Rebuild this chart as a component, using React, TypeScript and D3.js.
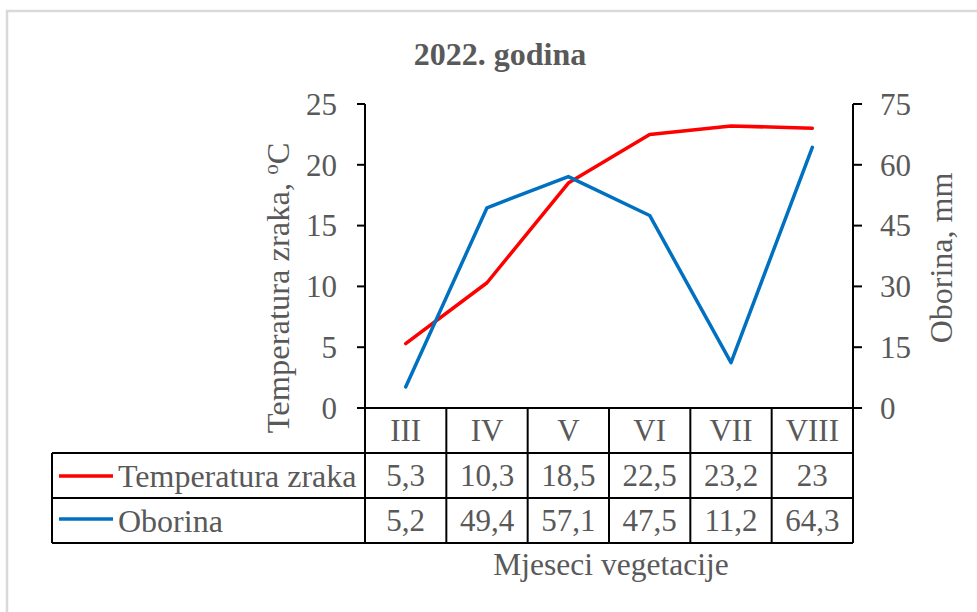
import React from "react";
import * as d3 from "d3";

const months = ["III", "IV", "V", "VI", "VII", "VIII"];
const temperature = [5.3, 10.3, 18.5, 22.5, 23.2, 23];
const precipitation = [5.2, 49.4, 57.1, 47.5, 11.2, 64.3];
const temperatureLabels = ["5,3", "10,3", "18,5", "22,5", "23,2", "23"];
const precipitationLabels = ["5,2", "49,4", "57,1", "47,5", "11,2", "64,3"];
const leftTicks = [0, 5, 10, 15, 20, 25];
const rightTicks = [0, 15, 30, 45, 60, 75];

const W = 977;
const H = 612;
const FONT = "'Liberation Serif', 'Times New Roman', serif";
const TXT = "#595959";

export default function App() {
  const left = 365;
  const right = 853;
  const top = 104;
  const bottom = 408;
  const row1 = 453;
  const row2 = 498;
  const tableBottom = 543;
  const tableLeft = 52;

  const x = d3.scaleBand<string>().domain(months).range([left, right]).padding(0);
  const bw = x.bandwidth();
  const yL = d3.scaleLinear().domain([0, 25]).range([bottom, top]);
  const yR = d3.scaleLinear().domain([0, 75]).range([bottom, top]);

  const cx = (i: number) => (x(months[i]) as number) + bw / 2;

  const tempLine = d3
    .line<number>()
    .x((_, i) => cx(i))
    .y((d) => yL(d))(temperature) as string;
  const precLine = d3
    .line<number>()
    .x((_, i) => cx(i))
    .y((d) => yR(d))(precipitation) as string;

  const fs = 31;

  return (
    <svg
      width={W}
      height={H}
      style={{ position: "absolute", left: 0, top: 0, background: "#fff" }}
      fontFamily={FONT}
    >
      <rect x={0} y={0} width={W} height={H} fill="#fff" />
      {/* outer border */}
      <path d={`M7,${H + 5} V11 H${W + 5}`} fill="none" stroke="#d9d9d9" strokeWidth={2.5} />

      {/* title */}
      <text x={500} y={65} textAnchor="middle" fontSize={32} fontWeight="bold" fill={TXT}>
        2022. godina
      </text>

      {/* left axis */}
      <line x1={left} y1={top} x2={left} y2={tableBottom} stroke="#000" strokeWidth={2} />
      {leftTicks.map((t) => (
        <g key={"l" + t}>
          <line x1={left - 8} x2={left} y1={yL(t)} y2={yL(t)} stroke="#000" strokeWidth={2} />
          <text x={337} y={yL(t)} dy="0.35em" textAnchor="end" fontSize={fs} fill={TXT}>
            {t}
          </text>
        </g>
      ))}

      {/* right axis */}
      <line x1={right} y1={top} x2={right} y2={tableBottom} stroke="#000" strokeWidth={2} />
      {rightTicks.map((t) => (
        <g key={"r" + t}>
          <line x1={right} x2={right + 9} y1={yR(t)} y2={yR(t)} stroke="#000" strokeWidth={2} />
          <text x={880} y={yR(t)} dy="0.35em" textAnchor="start" fontSize={fs} fill={TXT}>
            {t}
          </text>
        </g>
      ))}

      {/* x axis */}
      <line x1={left - 8} x2={right + 9} y1={bottom} y2={bottom} stroke="#000" strokeWidth={2} />

      {/* axis titles */}
      <text
        transform={`translate(289,288) rotate(-90)`}
        textAnchor="middle"
        fontSize={32.5}
        fill={TXT}
      >
        Temperatura zraka,{" "}
        <tspan fontSize={21} dy={-11}>o</tspan>
        <tspan dy={11}>C</tspan>
      </text>
      <text
        transform={`translate(952,258) rotate(-90)`}
        textAnchor="middle"
        fontSize={32}
        fill={TXT}
      >
        Oborina, mm
      </text>

      {/* lines */}
      <path d={tempLine} fill="none" stroke="#ff0000" strokeWidth={3.5} strokeLinejoin="round" strokeLinecap="round" />
      <path d={precLine} fill="none" stroke="#0070c0" strokeWidth={3.5} strokeLinejoin="round" strokeLinecap="round" />

      {/* data table */}
      <g stroke="#000" strokeWidth={2} fill="none">
        <line x1={tableLeft} x2={right} y1={row1} y2={row1} />
        <line x1={tableLeft} x2={right} y1={row2} y2={row2} />
        <line x1={tableLeft} x2={right} y1={tableBottom} y2={tableBottom} />
        <line x1={tableLeft} x2={tableLeft} y1={row1} y2={tableBottom} />
        {months.slice(1).map((m) => (
          <line key={"v" + m} x1={x(m)} x2={x(m)} y1={bottom} y2={tableBottom} />
        ))}
      </g>
      {months.map((m, i) => (
        <g key={"c" + m} fontSize={fs} fill={TXT} textAnchor="middle">
          <text x={cx(i)} y={(bottom + row1) / 2} dy="0.35em">{m}</text>
          <text x={cx(i)} y={(row1 + row2) / 2} dy="0.35em">{temperatureLabels[i]}</text>
          <text x={cx(i)} y={(row2 + tableBottom) / 2} dy="0.35em">{precipitationLabels[i]}</text>
        </g>
      ))}
      {/* legend keys */}
      <line x1={59} x2={113} y1={476} y2={476} stroke="#ff0000" strokeWidth={3.5} />
      <line x1={59} x2={113} y1={519} y2={519} stroke="#0070c0" strokeWidth={3.5} />
      <text x={118} y={(row1 + row2) / 2} dy="0.35em" fontSize={32} fill={TXT}>
        Temperatura zraka
      </text>
      <text x={118} y={(row2 + tableBottom) / 2} dy="0.35em" fontSize={32} fill={TXT}>
        Oborina
      </text>

      {/* x axis title */}
      <text x={611} y={575} textAnchor="middle" fontSize={31.5} fill={TXT}>
        Mjeseci vegetacije
      </text>
    </svg>
  );
}
